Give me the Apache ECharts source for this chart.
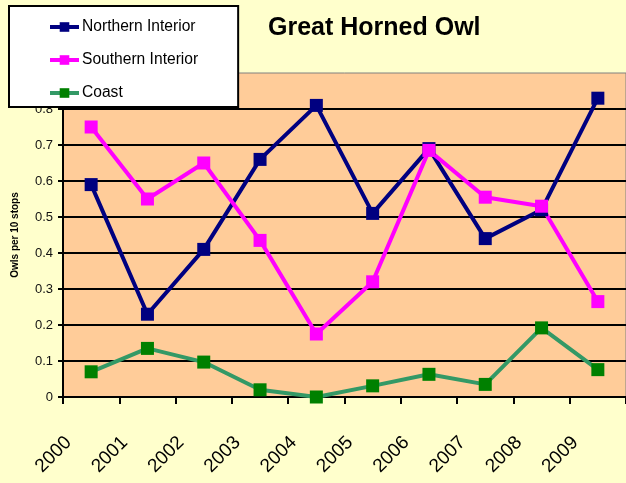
<!DOCTYPE html>
<html>
<head>
<meta charset="utf-8">
<script src="https://cdn.jsdelivr.net/npm/echarts@6/dist/echarts.min.js"></script>
<style>
	html, body { margin: 0; padding: 0; background: #FFFFCC; }
	#chart { width: 626px; height: 483px; }
</style>
</head>
<body>
<div id="chart"></div>
<script>
var years = ['2000', '2001', '2002', '2003', '2004', '2005', '2006', '2007', '2008', '2009'];
var northernInterior = [0.59, 0.23, 0.41, 0.66, 0.81, 0.51, 0.69, 0.44, 0.52, 0.83];
var southernInterior = [0.75, 0.55, 0.65, 0.435, 0.175, 0.32, 0.685, 0.555, 0.53, 0.265];
var coast = [0.07, 0.135, 0.097, 0.02, 0, 0.031, 0.063, 0.035, 0.192, 0.076];

var myChart = echarts.init(document.getElementById('chart'));

var lineSeries = function(name, data, lineColor, markColor) {
	return {
		name : name,
		type : 'line',
		data : data,
		symbol : 'rect',
		symbolSize : 13,
		showSymbol : true,
		animation : false,
		lineStyle : { color : lineColor, width : 4 },
		itemStyle : { color : markColor }
	};
};

var option = {
	backgroundColor : '#FFFFCC',
	textStyle : { fontFamily : 'Liberation Sans, Arial, sans-serif' },
	title : {
		text : 'Great Horned Owl',
		left : 263,
		top : 11,
		textStyle : { fontSize : 25, fontWeight : 'bold', color : '#000' }
	},
	legend : {
		orient : 'vertical',
		left : 9,
		top : 6,
		padding : [13, 40, 6, 39],
		itemGap : 17,
		itemWidth : 29,
		itemHeight : 12,
		backgroundColor : '#fff',
		borderColor : '#000',
		borderWidth : 2,
		lineStyle : { width : 4 },
		textStyle : { fontSize : 15.6, color : '#000', padding : [0, 0, 0, -2] },
		data : ['Northern Interior', 'Southern Interior', 'Coast']
	},
	grid : {
		left : 63,
		top : 73,
		width : 567,
		height : 324,
		show : true,
		backgroundColor : '#FFCC99',
		borderColor : '#808080',
		borderWidth : 1,
		containLabel : false
	},
	xAxis : [ {
		type : 'category',
		data : years,
		boundaryGap : true,
		axisLine : { lineStyle : { color : '#000', width : 2 } },
		axisTick : { show : true, length : 7, lineStyle : { color : '#000', width : 2 } },
		axisLabel : {
			interval : 0,
			rotate : 45,
			margin : 20,
			padding : [0, 32, 0, 0],
			fontSize : 19,
			color : '#000'
		}
	} ],
	yAxis : [ {
		type : 'value',
		min : 0,
		max : 0.9,
		interval : 0.1,
		name : 'Owls per 10 stops',
		nameLocation : 'middle',
		nameGap : 43,
		nameTextStyle : { fontSize : 10, fontWeight : 'bold', color : '#000' },
		axisLine : { show : true, lineStyle : { color : '#000', width : 2 } },
		axisTick : { show : true, length : 5, lineStyle : { color : '#000', width : 2 } },
		axisLabel : {
			margin : 10,
			fontSize : 13,
			color : '#111',
			formatter : function(v) { return +v.toFixed(1) + ''; }
		},
		splitLine : {
			show : true,
			showMaxLine : false,
			lineStyle : { color : '#000', width : 2 }
		}
	} ],
	series : [
		lineSeries('Northern Interior', northernInterior, '#000080', '#000080'),
		lineSeries('Southern Interior', southernInterior, '#FF00FF', '#FF00FF'),
		lineSeries('Coast', coast, '#339966', '#008000')
	]
};
myChart.setOption(option);
</script>
</body>
</html>
